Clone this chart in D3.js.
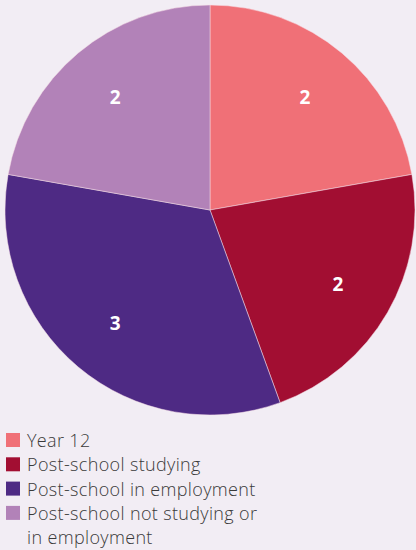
<!DOCTYPE html>
<html>
<head>
<meta charset="utf-8">
<script src="https://cdn.jsdelivr.net/npm/d3@7"></script>
<style>
  html, body { margin: 0; padding: 0; background: #f2edf4; }
</style>
</head>
<body>
<div class="chart"></div>
<script>
var categories = ["Year 12", "Post-school studying", "Post-school in employment", "Post-school not studying or in employment"];
var values = [2, 2, 3, 2];
var colors = ["#f07077", "#a20e32", "#4e2a84", "#b282b8"];

var w = 416;
var h = 550;
var cx = 210;
var cy = 210;
var radius = 205;

var svg = d3.select(".chart")
	.append("svg")
	.attr("width", w)
	.attr("height", h)
	.style("background", "#f2edf4");

var pie = d3.pie()
	.sort(null)
	.value(function(d) { return d; });

var arc = d3.arc()
	.innerRadius(0)
	.outerRadius(radius);

var labelArc = d3.arc()
	.innerRadius(radius * 0.72)
	.outerRadius(radius * 0.72);

var arcs = pie(values);

var g = svg.append("g")
	.attr("transform", "translate(" + cx + "," + cy + ")");

g.selectAll("path")
	.data(arcs)
	.enter()
	.append("path")
	.attr("d", arc)
	.attr("fill", function(d, i) { return colors[i]; })
	.attr("stroke", "#f6dfe6")
	.attr("stroke-width", 0.5);

g.selectAll("text")
	.data(arcs)
	.enter()
	.append("text")
	.attr("transform", function(d) { return "translate(" + labelArc.centroid(d) + ")"; })
	.attr("text-anchor", "middle")
	.attr("dy", "0.36em")
	.attr("font-family", "'Open Sans', sans-serif")
	.attr("font-weight", "bold")
	.attr("font-size", "19px")
	.attr("fill", "#ffffff")
	.text(function(d) { return Math.round(d.value); });

// legend
var legend = svg.append("g")
	.attr("transform", "translate(6,433)");

var rowY = 0;
categories.forEach(function(name, i) {
	var row = legend.append("g")
		.attr("transform", "translate(0," + rowY + ")");
	row.append("rect")
		.attr("width", 14)
		.attr("height", 14)
		.attr("fill", colors[i]);
	var txt = row.append("text")
		.attr("x", 21)
		.attr("y", 14)
		.attr("font-family", "'Open Sans', sans-serif")
		.attr("font-weight", 300)
		.attr("font-size", "18px")
		.attr("letter-spacing", "0.35px")
		.attr("fill", "#3a3a3a");
	var lines = wrap(name, 245, txt);
	rowY += 24.3 * lines;
});

function wrap(str, maxW, txt) {
	var words = str.split(" ");
	var line = [];
	var n = 0;
	var tspan = txt.append("tspan").attr("x", 21).attr("dy", 0);
	words.forEach(function(word) {
		line.push(word);
		tspan.text(line.join(" "));
		if (tspan.node().getComputedTextLength() > maxW && line.length > 1) {
			line.pop();
			tspan.text(line.join(" "));
			line = [word];
			n++;
			tspan = txt.append("tspan").attr("x", 21).attr("dy", 24).text(word);
		}
	});
	return n + 1;
}
</script>
</body>
</html>
